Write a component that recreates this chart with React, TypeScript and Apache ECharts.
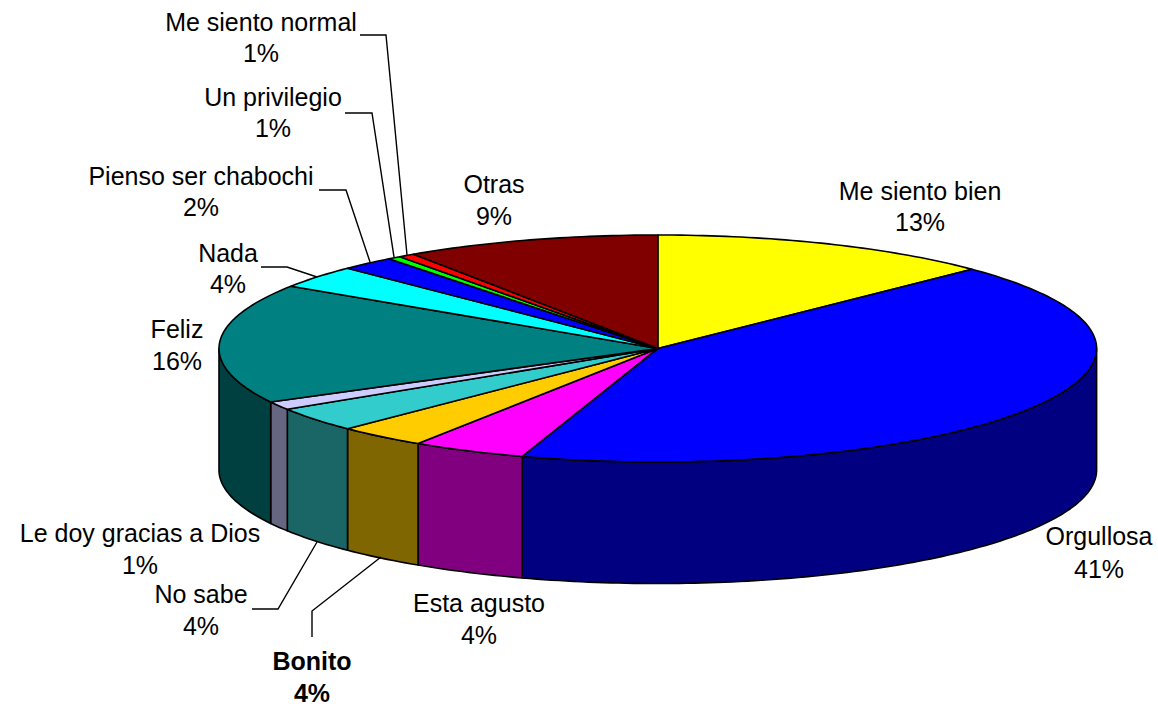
import React, { useEffect, useRef } from "react";
import * as echarts from "echarts";

const categories = ["Me siento bien", "Orgullosa", "Esta agusto", "Bonito", "No sabe", "Le doy gracias a Dios", "Feliz", "Nada", "Pienso ser chabochi", "Un privilegio", "Me siento normal", "Otras"];
const percentLabels = [13, 41, 4, 4, 4, 1, 16, 4, 2, 1, 1, 9];
// Share of the ellipse each slice occupies as drawn
const sliceShares = [12.7, 42.3, 4.2, 3.3, 3.5, 1.2, 17.05, 3.25, 2.0, 0.5, 0.6, 9.4];
const topColors = ["#FFFF00", "#0000FF", "#FF00FF", "#FFCC00", "#33CCCC", "#CCCCFF", "#008080", "#00FFFF", "#0000FF", "#00FF00", "#FF0000", "#800000"];
const wallColors = ["#808000", "#000080", "#800080", "#806600", "#1A6666", "#666680", "#004040", "#008080", "#000080", "#008000", "#800000", "#400000"];

const CX = 657.8, CY = 348.5, RX = 438.8, RY = 113.5, DEPTH = 121.5;

type Lbl = { x: number; y1: number; y2: number; bold?: boolean; leader?: number[][] };
const labelLayout: Lbl[] = [
  { x: 920, y1: 191, y2: 222 },
  { x: 1099, y1: 536, y2: 569 },
  { x: 479, y1: 603, y2: 635 },
  { x: 312, y1: 661, y2: 693, bold: true, leader: [[312, 637], [312, 611], [381, 557]] },
  { x: 201, y1: 594, y2: 626, leader: [[252, 609], [278, 609], [317, 542]] },
  { x: 140, y1: 533, y2: 565 },
  { x: 177, y1: 329, y2: 361 },
  { x: 228, y1: 253, y2: 284, leader: [[261, 267], [287, 267], [317, 277]] },
  { x: 201, y1: 176, y2: 207, leader: [[319, 190], [346, 190], [370, 262]] },
  { x: 273, y1: 97, y2: 128, leader: [[345, 113], [372, 113], [394, 257]] },
  { x: 261, y1: 22, y2: 53, leader: [[360, 35], [386, 35], [407, 255]] },
  { x: 494, y1: 184, y2: 216 },
];

const total = sliceShares.reduce((a, b) => a + b, 0);
let acc = 0;
const sliceRows = sliceShares.map((v, i) => {
  const row = [(acc / total) * 360, ((acc + v) / total) * 360, i];
  acc += v;
  return row;
});

const rim = (deg: number, dy = 0) => {
  const a = (deg * Math.PI) / 180;
  return [CX + RX * Math.sin(a), CY - RY * Math.cos(a) + dy];
};
const arc = (a0: number, a1: number, dy = 0) => {
  const n = Math.max(2, Math.ceil(Math.abs(a1 - a0) / 1));
  const pts: number[][] = [];
  for (let k = 0; k <= n; k++) pts.push(rim(a0 + ((a1 - a0) * k) / n, dy));
  return pts;
};

const renderTop = (_p: any, api: any) => {
  const i = api.value(2);
  return {
    type: "polygon",
    shape: { points: [[CX, CY], ...arc(api.value(0), api.value(1))] },
    style: { fill: topColors[i], stroke: "#000", lineWidth: 1.6, lineJoin: "round" },
  };
};
const renderWall = (_p: any, api: any) => {
  const i = api.value(2);
  const a0 = Math.max(api.value(0), 90);
  const a1 = Math.min(api.value(1), 270);
  if (a1 <= a0) return null;
  return {
    type: "polygon",
    shape: { points: [...arc(a0, a1), ...arc(a1, a0, DEPTH)] },
    style: { fill: wallColors[i], stroke: "#000", lineWidth: 1.6, lineJoin: "round" },
  };
};

const font = '"Liberation Sans", Arial, sans-serif';
const graphics: any[] = [];
labelLayout.forEach((l, i) => {
  const style = (text: string, y: number) => ({
    type: "text",
    x: l.x,
    y,
    z: 10,
    style: { text, x: 0, y: 0, align: "center", verticalAlign: "middle", fill: "#000", font: `${l.bold ? "bold " : ""}25px ${font}` },
  });
  graphics.push(style(categories[i], l.y1), style(`${percentLabels[i]}%`, l.y2));
  if (l.leader) {
    graphics.push({ type: "polyline", z: 10, shape: { points: l.leader }, style: { stroke: "#000", lineWidth: 1.4, fill: "none" } });
  }
});

export default function App() {
  const ref = useRef<HTMLDivElement>(null);
  useEffect(() => {
    const chart = echarts.init(ref.current!, undefined, { renderer: "svg" });
    chart.setOption({
      animation: false,
      backgroundColor: "#fff",
      graphic: graphics,
      series: [
        { type: "custom", coordinateSystem: "none", data: sliceRows, renderItem: renderWall, silent: true, z: 1 },
        { type: "custom", coordinateSystem: "none", data: sliceRows, renderItem: renderTop, silent: true, z: 2 },
      ],
    });
    return () => chart.dispose();
  }, []);
  return <div ref={ref} style={{ position: "fixed", left: 0, top: 0, width: 1158, height: 706 }} />;
}
